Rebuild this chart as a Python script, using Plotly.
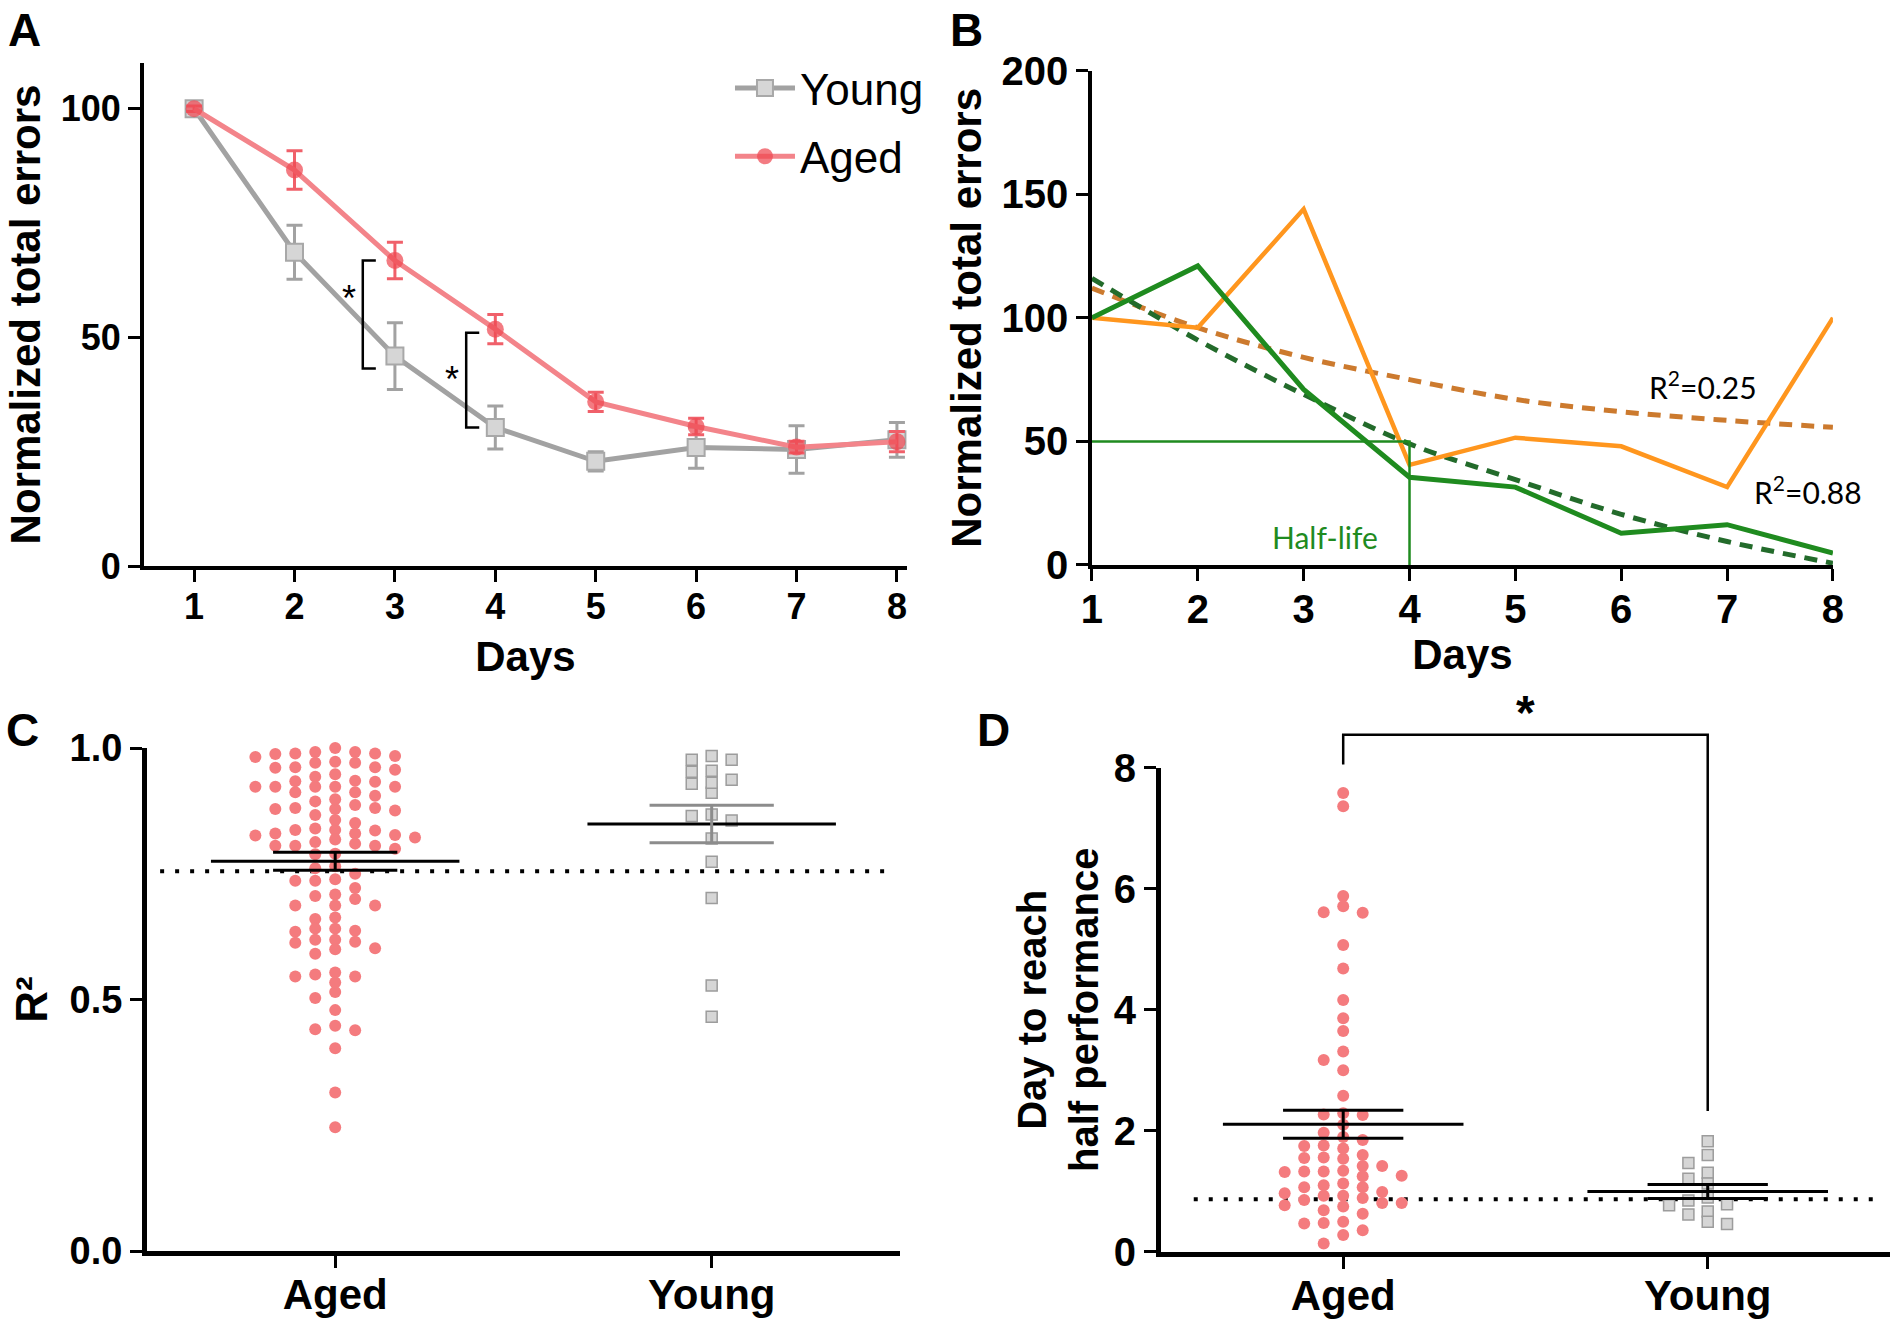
import plotly.graph_objects as go

# ---- panel A: learning curves (mean +/- SEM) ----
days = [1, 2, 3, 4, 5, 6, 7, 8]
young_mean = [100, 68.6, 45.9, 30.3, 22.9, 25.9, 25.5, 27.6]
young_sem = [0, 5.9, 7.3, 4.7, 2.1, 4.5, 5.2, 3.8]
aged_mean = [100, 86.6, 66.8, 51.8, 35.9, 30.5, 26.0, 27.2]
aged_sem = [0.6, 4.2, 4.0, 3.2, 2.1, 1.8, 1.3, 2.2]
# significance brackets between groups (day of bracket, top, bottom, star height)
sig_day = [2.68, 3.71]
sig_top = [66.8, 51.0]
sig_bottom = [43.2, 30.3]
sig_star = [58.6, 40.8]

# ---- panel B: two example animals with fits ----
orange_raw = [100, 96, 144, 40.5, 51.5, 48, 31.5, 100]
green_raw = [100, 121, 71, 35.5, 31.5, 12.8, 16.3, 4.8]
orange_fit = [112, 96, 84, 75, 67, 62, 58.5, 55.7]
green_fit = [116, 91, 69, 49, 34.5, 20.5, 9.5, 0.7]
half_level = 50
half_day = 4

# ---- panel C: R^2 of fits ----
aged_r2 = [0.989, 0.923, 0.830,
           0.988, 0.961, 0.923, 0.879, 0.837, 0.818,
           0.957, 0.935, 0.898, 0.876, 0.837, 0.813, 0.790, 0.722, 0.635, 0.613, 0.554,
           0.992, 0.971, 0.943, 0.923, 0.881, 0.851, 0.822, 0.800, 0.736, 0.709, 0.687,
           0.641, 0.619, 0.600, 0.546, 0.515, 0.448,
           1.000, 0.982, 0.962, 0.923, 0.881, 0.857, 0.827, 0.806, 0.750, 0.700, 0.637,
           0.591, 0.546, 0.503, 0.479, 0.439, 0.403, 0.315, 0.246,
           0.660, 0.663,
           0.984, 0.962, 0.934, 0.905, 0.879, 0.836, 0.806, 0.761, 0.736, 0.706, 0.687,
           0.602, 0.534, 0.441,
           0.973, 0.948, 0.923, 0.894, 0.867, 0.826, 0.806, 0.765, 0.739, 0.687, 0.641,
           0.619, 0.550,
           0.992, 0.971, 0.933, 0.912, 0.887, 0.840, 0.810, 0.789, 0.615,
           0.989, 0.912, 0.830]
young_r2 = [0.984, 0.955, 0.929, 0.868,
            0.977, 0.937, 0.911, 0.856, 0.820, 0.774, 0.702, 0.528, 0.466,
            0.977, 0.953, 0.931, 0.865]
r2_mean = [0.775, 0.849]
r2_sem = [0.018, 0.0375]
r2_cutoff = 0.755

# ---- panel D: day to reach half performance ----
aged_half = [1.42, 0.97, 0.81,
             1.54, 1.34, 0.93, 0.47,
             5.60, 2.27, 1.97, 1.76, 1.60, 1.33, 1.07, 0.86, 0.69, 0.48, 0.14,
             7.58, 7.36, 5.88, 5.71, 5.07, 4.68, 4.16, 3.86, 3.65, 3.17, 3.00, 2.58,
             2.26, 2.10, 1.85, 1.42, 1.25, 0.99, 0.81, 0.63, 0.36,
             5.61, 3.31, 2.29, 1.75, 1.56, 1.32, 1.10, 0.75, 0.50, 0.28,
             1.90, 1.71, 1.55, 1.33, 1.13, 0.93, 0.77,
             1.26, 1.07, 0.89]
young_half = [1.83, 1.60, 1.31, 1.13, 0.85, 0.67, 0.50,
              1.47, 1.21, 0.90, 0.46, 0.79, 0.62, 0.77]
half_mean = [2.11, 1.00]
half_sem = [0.23, 0.115]
half_cutoff = 0.87

groups = ["Aged", "Young"]

# fonts / colours
TICKFONT = "Liberation Sans Narrow, Arial Narrow, Liberation Sans, sans-serif"
TITLEFONT = "Liberation Sans, Arial, sans-serif"
NOTEFONT = "Lato, Open Sans, sans-serif"
RED_LINE = "#F3848A"
RED_MK = "rgba(238,72,82,0.72)"
RED_DOT = "#F47B7E"
GRAY_LINE = "#A2A2A2"
GRAY_FILL = "#D6D6D6"
GRAY_EDGE = "#9C9C9C"
ORANGE = "#FF961E"
ORANGE_FIT = "#CC7A2E"
GREEN = "#1F8B1F"
GREEN_FIT = "#236B2B"


def beeswarm(values, gap, step):
    """column offsets so that dots in one column never overlap"""
    order = sorted(range(len(values)), key=lambda i: -values[i])
    cols = {}
    offs = [0.0] * len(values)
    for i in order:
        v = values[i]
        k = 0
        while True:
            s = (k + 1) // 2 * (-1 if k % 2 else 1)
            if all(abs(v - u) >= gap for u in cols.get(s, [])):
                break
            k += 1
        cols.setdefault(s, []).append(v)
        offs[i] = s * step
    return offs


def mean_sem_trace(means, sems, xa, ya, colors):
    traces = []
    for i, (m, s) in enumerate(zip(means, sems)):
        traces.append(go.Scatter(x=[i - 0.33, i + 0.33], y=[m, m], mode="lines",
                                 line=dict(color="black", width=3), xaxis=xa, yaxis=ya,
                                 showlegend=False, hoverinfo="skip"))
        traces.append(go.Scatter(
            x=[i - 0.165, i + 0.165, None, i - 0.165, i + 0.165, None, i, i],
            y=[m + s, m + s, None, m - s, m - s, None, m - s, m + s],
            mode="lines", line=dict(color=colors[i], width=3), xaxis=xa, yaxis=ya,
            showlegend=False, hoverinfo="skip"))
    return traces


fig = go.Figure()

# panel A
fig.add_trace(go.Scatter(
    x=days, y=young_mean, name="Young", mode="lines+markers", legendgroup="young",
    line=dict(color=GRAY_LINE, width=5),
    marker=dict(symbol="square", size=17, color=GRAY_FILL, line=dict(color="#A8A8A8", width=2)),
    error_y=dict(type="data", array=young_sem, color=GRAY_LINE, thickness=3, width=8),
    xaxis="x", yaxis="y"))
fig.add_trace(go.Scatter(
    x=days, y=aged_mean, name="Aged", mode="lines+markers", legendgroup="aged",
    line=dict(color=RED_LINE, width=5),
    marker=dict(symbol="circle", size=17, color=RED_MK),
    error_y=dict(type="data", array=aged_sem, color="#F0606A", thickness=3, width=8),
    xaxis="x", yaxis="y"))

# panel B
fig.add_trace(go.Scatter(x=days, y=orange_fit, mode="lines", line=dict(color=ORANGE_FIT, width=5, dash="13px,9px", shape="spline"),
                         xaxis="x2", yaxis="y2", showlegend=False))
fig.add_trace(go.Scatter(x=days, y=green_fit, mode="lines", line=dict(color=GREEN_FIT, width=5, dash="13px,9px", shape="spline"),
                         xaxis="x2", yaxis="y2", showlegend=False))
fig.add_trace(go.Scatter(x=days, y=orange_raw, mode="lines", line=dict(color=ORANGE, width=4.5),
                         xaxis="x2", yaxis="y2", showlegend=False))
fig.add_trace(go.Scatter(x=days, y=green_raw, mode="lines", line=dict(color=GREEN, width=5),
                         xaxis="x2", yaxis="y2", showlegend=False))
fig.add_trace(go.Scatter(x=[days[0], half_day, half_day], y=[half_level, half_level, 0], mode="lines",
                         line=dict(color=GREEN, width=2.5), xaxis="x2", yaxis="y2", showlegend=False))

# panel C
fig.add_trace(go.Scatter(x=[-0.465, 1.468], y=[r2_cutoff, r2_cutoff], mode="lines",
                         line=dict(color="black", width=4, dash="4px,11px"),
                         xaxis="x3", yaxis="y3", showlegend=False))
off = beeswarm(aged_r2, 0.019, 0.053)
fig.add_trace(go.Scatter(x=[0 + o for o in off], y=aged_r2, mode="markers", cliponaxis=False,
                         marker=dict(size=12, color=RED_DOT), xaxis="x3", yaxis="y3", showlegend=False))
off = beeswarm(young_r2, 0.02, 0.053)
fig.add_trace(go.Scatter(x=[1 + o for o in off], y=young_r2, mode="markers", cliponaxis=False,
                         marker=dict(symbol="square", size=11, color=GRAY_FILL, line=dict(color=GRAY_EDGE, width=1.5)),
                         xaxis="x3", yaxis="y3", showlegend=False))
for t in mean_sem_trace(r2_mean, r2_sem, "x3", "y3", ["black", "#8C8C8C"]):
    fig.add_trace(t)

# panel D
fig.add_trace(go.Scatter(x=[-0.41, 1.47], y=[half_cutoff, half_cutoff], mode="lines",
                         line=dict(color="black", width=4, dash="4px,11px"),
                         xaxis="x4", yaxis="y4", showlegend=False))
off = beeswarm(aged_half, 0.165, 0.0535)
fig.add_trace(go.Scatter(x=[0 + o for o in off], y=aged_half, mode="markers", cliponaxis=False,
                         marker=dict(size=12, color=RED_DOT), xaxis="x4", yaxis="y4", showlegend=False))
off = beeswarm(young_half, 0.16, 0.053)
fig.add_trace(go.Scatter(x=[1 + o for o in off], y=young_half, mode="markers", cliponaxis=False,
                         marker=dict(symbol="square", size=11, color=GRAY_FILL, line=dict(color=GRAY_EDGE, width=1.5)),
                         xaxis="x4", yaxis="y4", showlegend=False))
for t in mean_sem_trace(half_mean, half_sem, "x4", "y4", ["black", "black"]):
    fig.add_trace(t)

tick_font = dict(family=TICKFONT, size=36, color="black", weight="bold")
title_font = dict(family=TITLEFONT, size=42, color="black", weight="bold")


def ax(domain, rng, anchor, lw=4, **kw):
    d = dict(domain=domain, range=rng, anchor=anchor, showline=True, linecolor="black",
             linewidth=lw, ticks="outside", ticklen=12, tickwidth=3, tickcolor="black",
             showgrid=False, zeroline=False, automargin=False, tickfont=tick_font)
    d.update(kw)
    return d


fig.update_layout(
    template="none",
    width=1901, height=1324, margin=dict(l=0, r=0, t=0, b=0, autoexpand=False),
    paper_bgcolor="white", plot_bgcolor="white",
    xaxis=ax([0.0757, 0.4771], [0.5, 8.1], "y", tickvals=days, ticklabelstandoff=-6,
             title=dict(text="Days", font=title_font, standoff=16)),
    yaxis=ax([0.5725, 0.9524], [0, 110], "x", tickvals=[0, 50, 100],
             title=dict(text="Normalized total errors", font=title_font, standoff=8)),
    xaxis2=ax([0.5744, 0.9642], [1, 8], "y2", lw=3.5, tickvals=days, ticklabelstandoff=-6,
              tickfont=dict(tick_font, size=40),
              title=dict(text="Days", font=title_font, standoff=0)),
    yaxis2=ax([0.5733, 0.9466], [0, 200], "x2", lw=3.5, tickvals=[0, 50, 100, 150, 200],
              tickfont=dict(tick_font, size=40),
              title=dict(text="Normalized total errors", font=title_font, standoff=8)),
    xaxis3=ax([0.0773, 0.4734], [-0.5, 1.5], "y3", lw=5, tickvals=[0, 1], ticktext=groups,
              ticklabelstandoff=-9, tickfont=dict(tick_font, size=42)),
    yaxis3=ax([0.0551, 0.4350], [0, 1], "x3", lw=5, tickvals=[0, 0.5, 1], tickformat=".1f",
              tickfont=dict(tick_font, size=38),
              title=dict(text="R²", font=dict(title_font, size=44), standoff=10)),
    xaxis4=ax([0.6107, 0.9942], [-0.5, 1.5], "y4", lw=5, tickvals=[0, 1], ticktext=groups,
              ticklabelstandoff=-9, tickfont=dict(tick_font, size=42)),
    yaxis4=ax([0.0544, 0.4203], [0, 8], "x4", lw=5, tickvals=[0, 2, 4, 6, 8],
              tickfont=dict(tick_font, size=40),
              title=dict(text="Day to reach<br>half performance", font=dict(title_font, size=40), standoff=4)),
    legend=dict(x=0.384, y=0.96, xanchor="left", yanchor="top", bgcolor="rgba(0,0,0,0)",
                font=dict(family=TICKFONT, size=44, color="black"), itemwidth=60, tracegroupgap=8),
)

# significance brackets, panel A
for d, top, bot, sy in zip(sig_day, sig_top, sig_bottom, sig_star):
    fig.add_shape(type="path", xref="x", yref="y",
                  path=f"M {d + 0.13} {top} L {d} {top} L {d} {bot} L {d + 0.13} {bot}",
                  line=dict(color="black", width=2.5))
    fig.add_annotation(x=d - 0.14, y=sy, xref="x", yref="y", text="*", showarrow=False,
                       font=dict(family=TITLEFONT, size=36, color="black"))


# significance bracket, panel D (drawn above the axis range, so in domain units)
def dom_x(v):
    return (v + 0.5) / 2.0


def dom_y(v):
    return v / 8.0


fig.add_shape(type="path", xref="x4 domain", yref="y4 domain",
              path=(f"M {dom_x(0)} {dom_y(8.05)} L {dom_x(0)} {dom_y(8.54)} "
                    f"L {dom_x(1)} {dom_y(8.54)} L {dom_x(1)} {dom_y(2.33)}"),
              line=dict(color="black", width=2.5))
fig.add_annotation(x=dom_x(0.5), y=dom_y(8.44), xref="x4 domain", yref="y4 domain", text="*",
                   showarrow=False, yanchor="bottom",
                   font=dict(family=TITLEFONT, size=48, color="black", weight="bold"))

# panel B notes
note = dict(family=NOTEFONT, size=30, color="black")
fig.add_annotation(x=6.77, y=72.8, xref="x2", yref="y2", text="R<sup>2</sup>=0.25", showarrow=False, font=note)
fig.add_annotation(x=7.76, y=30.3, xref="x2", yref="y2", text="R<sup>2</sup>=0.88", showarrow=False, font=note)
fig.add_annotation(x=3.2, y=11.3, xref="x2", yref="y2", text="Half-life", showarrow=False,
                   font=dict(note, color=GREEN))

# panel letters (top of text box in pixels from the top of the page)
for letter, px_x, px_top in [("A", 24, 2), ("B", 966, 2), ("C", 22, 702), ("D", 993, 702)]:
    fig.add_annotation(x=px_x / 1901, y=1 - px_top / 1324, xref="paper", yref="paper", text=letter,
                       showarrow=False, xanchor="center", yanchor="top",
                       font=dict(family=TICKFONT, size=46, color="black", weight="bold"))

fig.write_html("out.html", config={"displayModeBar": False},
               post_script="document.body.style.margin='0px';")
